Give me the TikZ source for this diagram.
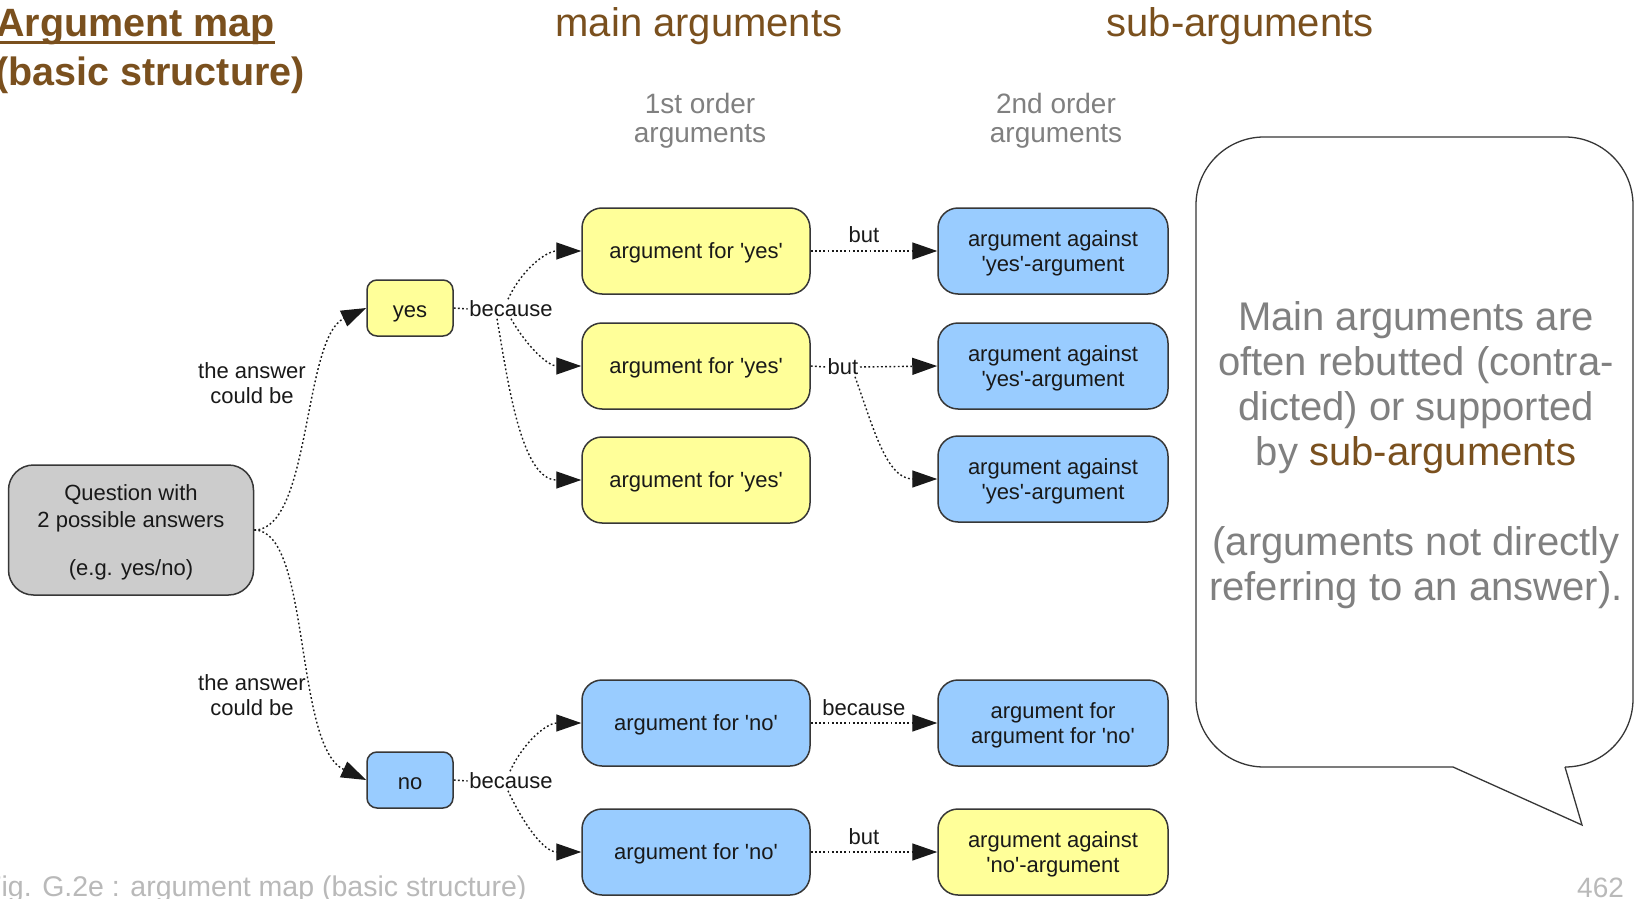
\documentclass[tikz,border=0pt]{standalone}
\usepackage{fontspec}
\setmainfont{Liberation Sans}[Ligatures=TeXOff]
\usetikzlibrary{arrows.meta}
\definecolor{brownT}{RGB}{122,80,30}
\definecolor{grayT}{RGB}{128,128,128}
\definecolor{grayF}{RGB}{185,185,185}
\definecolor{yel}{RGB}{255,255,153}
\definecolor{blu}{RGB}{153,204,255}
\definecolor{gry}{RGB}{204,204,204}
\definecolor{edgec}{RGB}{55,55,55}
\definecolor{ink}{RGB}{25,25,25}
\begin{document}
\begin{tikzpicture}[x=1pt,y=-1pt,
  font=\fontsize{22}{25}\selectfont,
  box/.style={draw=edgec, line width=1.5pt, rounded corners=20pt, minimum width=228pt, minimum height=86pt, align=center, inner sep=0pt, text depth=0pt, text=ink},
  ybox/.style={box, fill=yel},
  bbox/.style={box, fill=blu},
  smallbox/.style={draw=edgec, line width=1.5pt, rounded corners=10pt, minimum width=86pt, minimum height=56pt, inner sep=0pt, text height=18pt, text depth=0pt, text=ink},
  lbl/.style={inner sep=1.5pt, text=ink},
  conn/.style={draw=ink, line width=1.4pt, dash pattern=on 1.8pt off 2.4pt},
  arr/.style={conn, -{Triangle[length=25pt,width=17pt]}},
  bubble/.style={draw=edgec, line width=1.3pt},
  hdr/.style={anchor=base, inner sep=0pt, text=brownT, font=\fontsize{40}{44}\selectfont},
  sub/.style={align=center, inner sep=0pt, text=grayT, font=\fontsize{28}{29}\selectfont},
  ans/.style={align=center, inner sep=0pt, text=ink},
  ttl/.style={anchor=base west, inner sep=0pt, text=brownT, font=\bfseries\fontsize{39.5}{42}\selectfont},
  foot/.style={anchor=base west, inner sep=0pt, text=grayF},
]
\useasboundingbox (0,0) rectangle (1634,899);
\fill[white] (0,0) rectangle (1634,899);

% titles
\node[ttl] (t1) at (-4,37) {Argument map};
\draw[brownT, line width=3pt] ([yshift=-6pt]t1.base west) -- ([yshift=-6pt]t1.base east);
\node[ttl] (t2) at (-5,85) {(basic structure)};
\node[hdr] (hmain) at (699,37) {main arguments};
\node[hdr] (hsub) at (1240,37) {sub-arguments};
\node[sub] (o1) at (700,121) {1st order\\arguments};
\node[sub] (o2) at (1056,121) {2nd order\\arguments};

% nodes
\node[box, fill=gry, minimum width=245pt, minimum height=130pt, rounded corners=25pt, font=\fontsize{22}{27}\selectfont] (q) at (131,530) {Question with\\2 possible answers\\[21pt](e.g. yes/no)};
\node[smallbox, fill=yel] (yes) at (410,308) {yes};
\node[smallbox, fill=blu] (no) at (410,780) {no};

\node[ybox] (y1) at (696,251) {argument for 'yes'};
\node[ybox] (y2) at (696,366) {argument for 'yes'};
\node[ybox] (y3) at (696,480) {argument for 'yes'};
\node[bbox, minimum width=230pt] (b1) at (1053,251) {argument against\\'yes'-argument};
\node[bbox, minimum width=230pt] (b2) at (1053,366) {argument against\\'yes'-argument};
\node[bbox, minimum width=230pt] (b3) at (1053,479) {argument against\\'yes'-argument};

\node[bbox] (n1) at (696,723) {argument for 'no'};
\node[bbox] (n2) at (696,852) {argument for 'no'};
\node[bbox, minimum width=230pt] (nb1) at (1053,723) {argument for\\argument for 'no'};
\node[ybox, minimum width=230pt] (ny2) at (1053,852) {argument against\\'no'-argument};

% inline labels
\node[lbl] (bc1) at (511,309) {because};
\node[lbl] (bc2) at (511,781) {because};
\node[lbl] (but2) at (843,367) {but};

% answer labels
\node[ans] (a1) at (252,383.5) {the answer\\could be};
\node[ans] (a2) at (252,695) {the answer\\could be};

% connectors
\draw[arr] (q.east) to[out=0, in=205, out distance=57pt, in distance=70pt] (yes.west);
\draw[arr] (q.east) to[out=0, in=155, out distance=57pt, in distance=80pt] (no.west);

\draw[conn] (yes.east) -- (bc1.west);
\draw[arr] ([xshift=-3pt]bc1.north) to[out=65, in=180] (y1.west);
\draw[arr] (bc1.south) to[out=-60, in=180] (y2.west);
\draw[arr] ([xshift=-14pt]bc1.south) to[out=-80, in=180, looseness=0.85] (y3.west);

\draw[arr] (y1) -- node[lbl, above=6pt, pos=0.42] (lbut1) {but} (b1);
\draw[conn] (y2.east) -- (but2.west);
\draw[arr] (but2.east) -- (b2.west);
\draw[arr] ([xshift=12pt]but2.south) to[out=-70, in=180] (b3.west);

\draw[conn] (no.east) -- (bc2.west);
\draw[arr] ([xshift=-1pt]bc2.north) to[out=65, in=180] (n1.west);
\draw[arr] ([xshift=-3pt]bc2.south) to[out=-65, in=180] (n2.west);

\draw[arr] (n1) -- node[lbl, above=5pt, pos=0.42] (lbec) {because} (nb1);
\draw[arr] (n2) -- node[lbl, above=5pt, pos=0.42] (lbut3) {but} (ny2);

% speech bubble
\draw[bubble, line join=miter] (1453,767) -- (1582,825) -- (1565,767);
\draw[bubble, rounded corners=68pt] (1565,767) -- (1633,767) -- (1633,137) -- (1196,137) -- (1196,767) -- (1453,767);
\node[align=center, inner sep=0pt, text=grayT, font=\fontsize{40}{45}\selectfont] (note) at (1416,455)
  {Main arguments are\\often rebutted (contra-\\dicted) or supported\\by \textcolor{brownT}{sub-arguments}\\[45pt](arguments not directly\\referring to an answer).};

% footer
\node[foot, font=\fontsize{28.5}{30}\selectfont] (footer) at (-16,896) {Fig. G.2e : argument map (basic structure)};
\node[foot, font=\fontsize{28}{30}\selectfont] (page) at (1577,897) {462};
\end{tikzpicture}
\end{document}
